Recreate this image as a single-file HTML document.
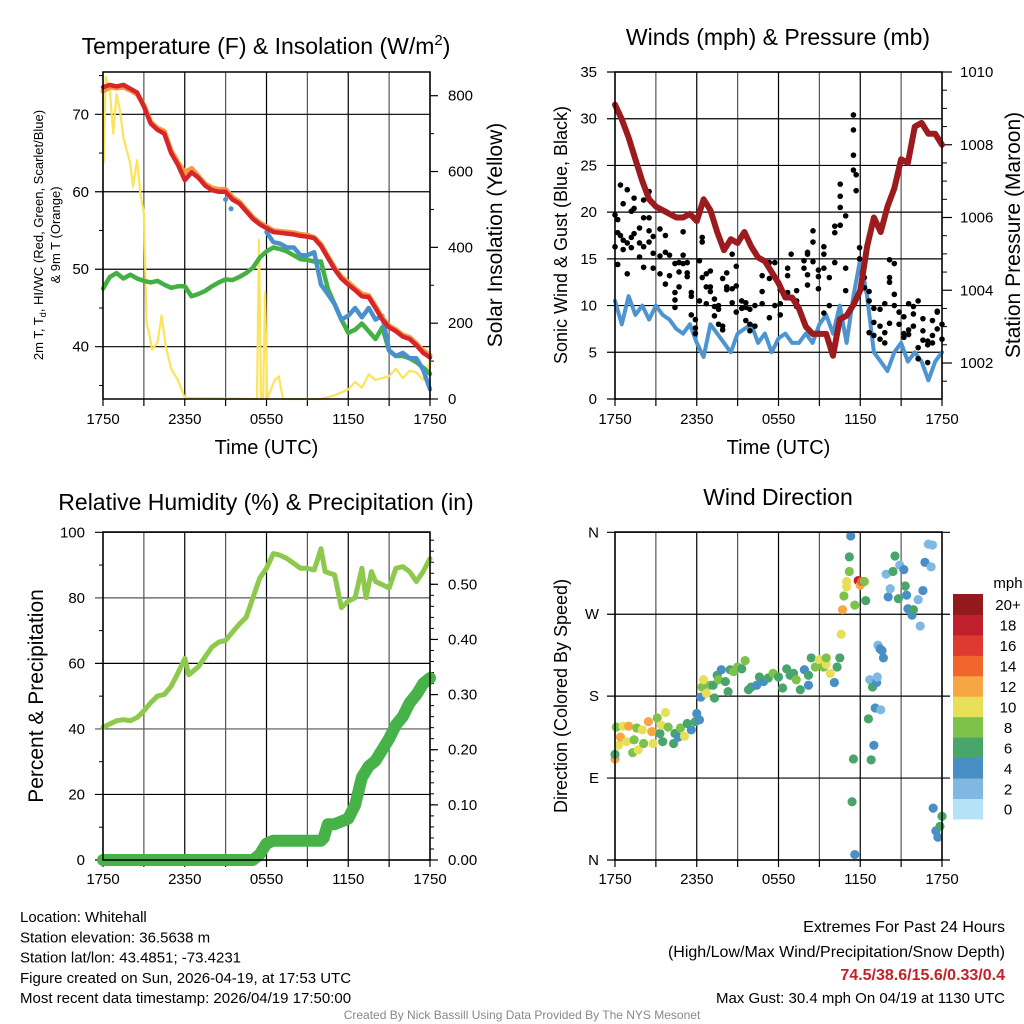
<!DOCTYPE html>
<html><head><meta charset="utf-8"><style>
html,body{margin:0;padding:0;background:#fff;}
svg{display:block;font-family:"Liberation Sans",sans-serif;}
</style></head><body>
<svg id="c" width="1024" height="1024" viewBox="0 0 1024 1024"></svg>
<script>
// ---------- DATA ----------
const halfHours = [0,0.5,1,1.5,2,2.5,3,3.5,4,4.5,5,5.5,6,6.5,7,7.5,8,8.5,9,9.5,10,10.5,11,11.5,12,12.5,13,13.5,14,14.5,15,15.5,16,16.5,17,17.5,18,18.5,19,19.5,20,20.5,21,21.5,22,22.5,23,23.5,24];
const tempRed = [73.5,73.8,73.6,73.8,73.3,72.8,71.0,68.8,68.0,67.5,65.0,63.5,61.5,62.5,61.8,60.8,60.2,60.0,60.0,59.0,58.5,57.5,56.5,55.8,55.3,54.8,54.7,54.6,54.5,54.3,54.2,54.0,53.0,51.5,50.0,48.8,48.0,47.3,46.5,46.4,45.0,43.5,42.5,42.0,41.3,41.0,40.2,39.2,38.6];
const tempOrange = [73.0,73.5,73.4,73.5,73.1,72.6,71.2,69.0,68.2,67.8,65.3,63.8,62.5,63.0,62.0,61.0,60.5,60.3,60.3,59.3,58.7,57.7,56.7,56.0,55.5,55.0,54.9,54.8,54.7,54.5,54.4,54.1,53.2,51.7,50.2,49.0,48.3,47.5,46.8,46.6,45.2,43.7,42.7,42.2,41.5,41.2,40.4,39.5,38.9];
const dewGreen = [47.5,49.0,49.5,48.8,49.3,48.8,48.5,48.3,48.5,48.0,47.6,47.8,47.8,46.5,46.8,47.2,47.8,48.3,48.7,48.6,49.0,49.5,50.2,51.5,52.3,52.8,52.6,52.3,51.8,51.3,51.2,51.0,51.0,47.5,45.5,43.5,41.8,42.2,43.0,42.0,41.0,42.5,39.5,38.8,38.8,38.5,38.0,37.3,36.5];
const chillTimes = [12,12.5,13,13.5,14,14.5,15,15.5,16,16.5,17,17.5,18,18.5,19,19.5,20,20.5,21,21.5,22,22.5,23,23.5,24];
const chillBlue = [54.8,53.5,53.3,52.8,52.8,51.8,51.8,52.2,48.0,46.8,45.5,43.5,44.0,45.0,43.8,45.0,43.5,44.0,39.5,38.8,39.2,38.5,38.5,37.0,34.5];
const solarTimes = [0,0.05,0.2,0.5,0.75,1,1.25,1.5,2,2.2,2.5,2.75,3,3.2,3.4,3.6,4,4.3,4.6,5,5.5,6,11.3,11.45,11.6,11.75,11.9,12.05,12.6,12.9,13.2,16,17,18,18.5,19,19.5,20,21,21.5,22,22.5,23,23.5,24];
const solarValues = [755,623,850,820,700,805,760,690,620,560,630,540,490,200,170,130,150,220,140,80,50,3,0,420,0,0,280,0,50,60,0,0,10,25,45,30,65,50,60,80,55,75,70,50,100];

const windTimes = halfHours;
const windBlue = [10.5,8,11,9,10,8.5,10,9,8.5,7.5,7,8,6,4.5,8,7,6,5,7,7.5,8,6,7,5,6.5,7,6,6,7,6,8,9,7,10,6,11,15,11,5,4,3,5,6,4,5,4,2,4,5];
const pressure = [1009.1,1008.7,1008.2,1007.6,1007.0,1006.5,1006.3,1006.2,1006.1,1006.0,1006.0,1006.1,1005.9,1006.5,1006.2,1005.6,1005.1,1005.4,1005.3,1005.6,1005.2,1004.9,1004.8,1004.5,1004.2,1003.8,1003.8,1003.5,1003.0,1002.8,1002.8,1002.8,1002.2,1003.2,1003.3,1003.6,1004.0,1005.2,1006.0,1005.6,1006.3,1006.8,1007.6,1007.5,1008.5,1008.6,1008.3,1008.3,1008.0];
const gustTimes = [0,0,0.2,0.2,0.2,0.4,0.4,0.6,0.6,0.6,0.9,0.9,0.9,1.2,1.2,1.2,1.4,1.4,1.4,1.8,1.8,1.8,2.1,2.1,2.1,2.1,2.5,2.5,2.5,2.5,2.8,2.8,2.8,3.3,3.3,3.3,3.7,3.7,3.7,4,4,4.4,4.4,4.4,4.4,4.7,4.7,4.7,5,5,5,5.3,5.3,5.3,5.6,5.6,5.6,5.9,5.9,5.9,6.2,6.2,6.4,6.4,6.4,6.7,6.7,6.7,7,7,7,7.3,7.3,7.3,7.6,7.6,7.6,7.9,7.9,7.9,8.2,8.2,8.2,8.6,8.6,8.6,8.9,8.9,8.9,9.3,9.3,9.6,9.6,9.6,9.9,9.9,9.9,10.27,10.27,10.8,10.8,10.8,11.33,11.33,11.33,11.73,11.73,12.13,12.13,12.13,12.67,12.67,12.67,12.93,12.93,13.33,13.33,13.33,13.87,13.87,14.13,14.13,14.13,14.13,14.53,14.53,14.53,14.93,14.93,14.93,15.33,15.33,15.33,15.33,15.73,15.73,16.13,16.13,16.13,16.53,16.53,16.53,16.53,16.93,16.93,16.93,17.5,17.5,17.5,17.5,17.7,17.7,17.95,17.95,18.3,18.3,18.65,18.65,18.65,19.0,19.0,19.0,19.45,19.45,19.45,19.8,19.8,19.8,20.15,20.15,20.15,20.15,20.5,20.5,20.5,20.85,20.85,21.2,21.2,21.2,21.55,21.55,21.55,21.9,21.9,21.9,22.25,22.25,22.25,22.6,22.6,22.6,22.95,22.95,22.95,23.3,23.3,23.3,23.65,23.65,23.65,24,24];
const gustValues = [19.7,16.3,19.2,17.8,14.4,22.9,17.5,20.9,17.0,16.0,22.4,16.7,13.4,20.1,17.3,16.2,21.5,20.4,17.7,18.3,16.7,15.2,21.3,19.4,16.3,14.1,22.2,19.4,18.0,16.8,17.4,15.6,14.0,18.2,15.3,13.4,17.5,15.7,12.3,15.4,13.2,14.5,11.4,10.6,9.8,13.6,12.0,14.6,17.9,15.4,14.5,14.6,13.5,13.1,11.0,9.0,11.4,7.6,7.0,8.5,14.8,10.5,16.8,17.3,13.0,13.4,12.0,10.2,11.5,13.7,12.0,10.7,9.9,8.9,10.0,9.6,8.0,12.9,7.4,7.8,13.5,12.0,11.7,15.5,11.8,10.3,14.2,12.1,9.3,9.7,10.5,10.3,9.8,8.4,9.6,8.0,7.3,10.0,7.8,13.2,11.5,10.2,14.6,12.9,8.7,14.6,10.0,11.7,9.0,10.2,14.0,13.2,11.4,15.5,10.8,11.6,10.5,9.9,14.8,14.0,15.7,15.5,13.3,12.2,18.0,16.8,14.7,13.8,13.1,11.8,16.3,15.5,14.0,9.2,13.0,10.0,14.6,17.8,18.5,18.6,20.5,21.7,23.0,19.6,14.0,11.6,24.5,26.1,28.8,30.4,24.0,22.3,16.2,15.0,13.0,11.9,11.5,10.5,7.1,9.7,8.2,6.8,9.6,7.8,6.4,7.1,6.0,10.2,8.1,14.9,13.0,12.5,10.0,14.5,11.2,9.3,8.0,8.8,7.0,6.6,10.2,7.4,6.9,9.9,9.1,7.8,5.5,4.3,10.5,8.6,6.3,7.3,3.9,5.8,6.2,8.4,6.0,6.8,9.3,9.4,7.5,6.4,8.0];

const rhTimes = [0,0.5,1,1.5,2,2.5,3,3.5,4,4.5,5,5.5,6,6.3,7,7.5,8,8.5,9,9.5,10,10.5,11,11.5,12,12.5,13,13.5,14,14.5,15,15.5,16,16.3,17,17.5,18,18.5,19,19.3,19.7,20,20.5,21,21.5,22,22.5,23,23.5,24];
const rhValues = [40.5,41.5,42.5,42.8,42.5,43.5,45.5,48,50,50.5,53,57,61.5,56.5,59,62,65,66.5,67,69.5,72,74,80,86,89,93.5,93,92,90.5,89,89,88.5,95,88,87,77,79,80,89,80,88,85,84,83,89,89.5,88,85,88,92];
const precipTimes = [0,11,11.5,12,12.5,16,16.2,16.5,17,17.5,18,18.5,19,19.5,20,20.5,21,21.5,22,22.5,23,23.5,24];
const precipValues = [0,0,0.01,0.03,0.035,0.035,0.04,0.065,0.065,0.07,0.075,0.10,0.15,0.17,0.18,0.20,0.22,0.245,0.26,0.285,0.30,0.32,0.33];

const dirTimes = [0,0,0.1,0.25,0.4,0.6,0.85,1,1.3,1.4,1.6,1.7,2,2.1,2.45,2.7,2.8,3.1,3.3,3.4,3.7,3.5,3.9,4.3,4.4,4.65,4.8,5.1,5.3,5.6,5.9,6,6.2,6.3,6.4,6.5,6.7,7,7.2,7.3,7.5,7.6,7.8,8.1,8.3,8.45,8.7,9,9.3,9.55,9.8,10,10.4,10.6,10.9,11.25,11.6,12,12.3,12.6,12.85,13.1,13.3,13.6,13.9,14.2,14.2,14.4,14.7,15,15.3,15.5,15.5,15.8,16.1,16.3,16.5,16.6,16.7,16.8,17,17,17.2,17.2,17.3,17.5,17.4,17.6,17.6,17.85,18,18.1,18.3,18.4,18.6,18.7,18.8,19,18.9,19.1,19.2,19.25,19.3,19.45,19.6,19.7,19.5,19.9,20.05,20.2,20.4,20.55,20.8,20.9,21.2,21.3,21.4,21.5,21.8,21.9,22.25,22.4,22.6,22.75,23,23.2,23.3,23.35,23.55,23.7,23.85,24];
const dirDegrees = [111,116,146,126,135,147,130,147,118,132,145,121,143,128,152,141,128,156,139,148,162,130,146,128,139,135,145,136,150,143,152,161,154,179,190,198,183,192,192,178,203,198,209,196,185,209,207,212,210,219,187,190,192,201,196,200,205,201,189,210,203,205,198,187,209,203,192,222,212,220,212,215,222,205,195,212,222,248,275,290,300,306,317,333,356,111,64,6,280,307,302,306,306,285,155,198,110,126,190,167,195,201,236,232,230,222,165,314,289,298,317,334,287,324,319,301,291,276,269,275,286,257,296,327,347,322,346,57,32,25,37,48];
const dirSpeeds = [12,6,8,10,12,10,10,12,8,8,8,10,10,8,12,12,10,8,6,10,10,6,8,6,6,4,8,10,6,4,6,4,4,4,8,10,10,8,6,6,6,8,4,6,6,6,8,8,6,8,6,6,4,6,4,6,8,6,6,6,6,6,8,6,4,6,4,6,8,10,8,10,8,10,4,6,6,10,12,8,10,10,8,6,4,6,6,4,8,18,12,14,8,6,6,2,6,4,6,4,4,2,2,4,4,4,2,2,4,2,6,6,6,2,4,6,4,4,4,6,2,2,4,4,2,2,2,4,4,4,6,6];

const timeTickLabels = ["1750","2350","0550","1150","1750"];
const tempTicks = [40,50,60,70];
const solarTicks = [0,200,400,600,800];
const windTicks = [0,5,10,15,20,25,30,35];
const pressTicks = [1002,1004,1006,1008,1010];
const rhTicks = [0,20,40,60,80,100];
const precipTicks = [0,0.1,0.2,0.3,0.4,0.5];
const dirTickLabels = ["N","E","S","W","N"];
const speedBins = ["0","2","4","6","8","10","12","14","16","18","20+"];
const speedColors = ["#b4e2f6","#7fb8e2","#4a8ec6","#48a56c","#7cc24b","#e8df58","#f6a744","#f0662c","#df3a2f","#c0202b","#921a1c"];

// ---------- HELPERS ----------
const NS = "http://www.w3.org/2000/svg";
const svg = document.getElementById('c');
function mk(tag, attrs, parent){const e=document.createElementNS(NS,tag);for(const k in attrs)e.setAttribute(k,attrs[k]);(parent||svg).appendChild(e);return e;}
function txt(s, attrs, parent){const e=mk('text',attrs,parent);e.textContent=s;return e;}
function lin(d0,d1,r0,r1){return v=>r0+(v-d0)*(r1-r0)/(d1-d0);}

function panel(name,x0,x1,y0,y1){
  const g=mk('g',{});
  
  
  const xs=lin(0,24,x0,x1);
  for(let h=0;h<=24;h+=3){
    const l=mk('line',{x1:xs(h),x2:xs(h),y1:y0,y2:y1,stroke:(h%6==0)?'#000':'#555','stroke-width':1.2},g);
    
    
    mk('line',{x1:xs(h),x2:xs(h),y1:y1,y2:y1+7,stroke:'#000','stroke-width':1.2},g);
  }
  return {g,xs};
}
function timeLabels(g,xs,y,withTitle){
  timeTickLabels.forEach((s,i)=>{
    const t=txt(s,{x:xs(i*6),y:y,'font-size':15,'text-anchor':'middle'},g);
    
    
  });
  if(withTitle){
    const t=txt('Time (UTC)',{x:(xs(0)+xs(24))/2,y:y+30,'font-size':20,'text-anchor':'middle'},g);
    
    
  }
}
function frame(g,x0,x1,y0,y1){mk('rect',{x:x0,y:y0,width:x1-x0,height:y1-y0,fill:'none',stroke:'#000','stroke-width':1.5},g);}
function path(g,xs,ys,T,V,style,name){
  let d='';T.forEach((t,i)=>{d+=(i?'L':'M')+xs(t).toFixed(1)+','+ys(V[i]).toFixed(1);});
  const p=mk('path',Object.assign({d:d,fill:'none','stroke-linejoin':'round','stroke-linecap':'round'},style),g);
  
  
  return p;
}

// ---------- PANEL 1: Temperature ----------
(function(){
  const X0=103,X1=430,Y0=72,Y1=399;
  const {g,xs}=panel('temperature-panel',X0,X1,Y0,Y1);
  const yT=lin(40,70,346.7,114.3), yS=lin(0,800,399,95.7);
  tempTicks.forEach(v=>{mk('line',{x1:X0-8,x2:X1,y1:yT(v),y2:yT(v),stroke:'#000','stroke-width':1.2},g);
    const t=txt(String(v),{x:X0-14,y:yT(v)+5,'font-size':15,'text-anchor':'end'},g);
    });
  for(let v=35;v<=75;v+=5){if(v%10)mk('line',{x1:X0-4,x2:X0,y1:yT(v),y2:yT(v),stroke:'#000'},g);}
  solarTicks.forEach(v=>{mk('line',{x1:X1,x2:X1+8,y1:yS(v),y2:yS(v),stroke:'#000','stroke-width':1.2},g);
    const t=txt(String(v),{x:X1+18,y:yS(v)+5,'font-size':15},g);
    });
  for(let v=100;v<=800;v+=200)mk('line',{x1:X1,x2:X1+4,y1:yS(v),y2:yS(v),stroke:'#000'},g);
  path(g,xs,yS,solarTimes,solarValues,{stroke:'#fce45a','stroke-width':2.2},'solar-line');
  path(g,xs,yT,halfHours,dewGreen,{stroke:'#44b043','stroke-width':4.5},'dewpoint-line');
  path(g,xs,yT,chillTimes,chillBlue,{stroke:'#4a90cc','stroke-width':4.5},'windchill-line');
  [[9,59.0],[9.4,57.8]].forEach(p=>{const c=mk('circle',{cx:xs(p[0]),cy:yT(p[1]),r:2.5,fill:'#4a90cc'},g);});
  path(g,xs,yT,halfHours,tempOrange,{stroke:'#f59a3c','stroke-width':5},'temp-9m-line');
  path(g,xs,yT,halfHours,tempRed,{stroke:'#d6262b','stroke-width':4.5},'temp-2m-line');
  frame(g,X0,X1,Y0,Y1);
  timeLabels(g,xs,424,true);
  const t=mk('text',{x:266,y:54,'font-size':23,'text-anchor':'middle'},g);
  t.innerHTML='Temperature (F) &amp; Insolation (W/m<tspan font-size="15" dy="-9">2</tspan><tspan dy="9">)</tspan>';
  
  const a=txt('2m T, T',{transform:'translate(43,235) rotate(-90)','font-size':13,'text-anchor':'middle'},g);
  a.innerHTML='2m T, T<tspan font-size="9" dy="3">d</tspan><tspan dy="-3">, HI/WC (Red, Green, Scarlet/Blue)</tspan>';
  
  const b=txt('& 9m T (Orange)',{transform:'translate(60,235) rotate(-90)','font-size':13,'text-anchor':'middle'},g);
  
  const r=txt('Solar Insolation (Yellow)',{transform:'translate(502,235) rotate(-90)','font-size':21,'text-anchor':'middle'},g);
  
})();

// ---------- PANEL 2: Winds ----------
(function(){
  const X0=615,X1=942,Y0=72,Y1=399;
  const {g,xs}=panel('wind-panel',X0,X1,Y0,Y1);
  const yW=lin(0,35,399,72), yP=lin(1002,1010,363,72);
  windTicks.forEach(v=>{mk('line',{x1:X0-8,x2:X1,y1:yW(v),y2:yW(v),stroke:'#000','stroke-width':1.2},g);
    const t=txt(String(v),{x:X0-18,y:yW(v)+5,'font-size':15,'text-anchor':'end'},g);
    });
  pressTicks.forEach(v=>{mk('line',{x1:X1,x2:X1+10,y1:yP(v),y2:yP(v),stroke:'#000','stroke-width':1.2},g);
    const t=txt(String(v),{x:X1+18,y:yP(v)+5,'font-size':15},g);
    });
  for(let v=1001.5;v<1010;v+=0.5){if(v%2)mk('line',{x1:X1,x2:X1+5,y1:yP(v),y2:yP(v),stroke:'#000'},g);}
  path(g,xs,yW,windTimes,windBlue,{stroke:'#4d95d0','stroke-width':4},'sustained-wind-line');
  gustTimes.forEach((t,i)=>{const c=mk('circle',{cx:xs(t),cy:yW(gustValues[i]),r:2.8,fill:'#000'},g);
    });
  path(g,xs,yP,halfHours,pressure,{stroke:'#9b1b1e','stroke-width':6},'pressure-line');
  frame(g,X0,X1,Y0,Y1);
  timeLabels(g,xs,424,true);
  const t=txt('Winds (mph) & Pressure (mb)',{x:778,y:45,'font-size':23,'text-anchor':'middle'},g);
  
  const a=txt('Sonic Wind & Gust (Blue, Black)',{transform:'translate(567,235) rotate(-90)','font-size':18,'text-anchor':'middle'},g);
  
  const b=txt('Station Pressure (Maroon)',{transform:'translate(1020,235) rotate(-90)','font-size':21,'text-anchor':'middle'},g);
  
})();

// ---------- PANEL 3: RH & Precip ----------
(function(){
  const X0=103,X1=430,Y0=532,Y1=860;
  const {g,xs}=panel('humidity-panel',X0,X1,Y0,Y1);
  const yR=lin(0,100,860,532.3), yPr=lin(0,0.5,860,584.3);
  rhTicks.forEach(v=>{mk('line',{x1:X0-8,x2:X1,y1:yR(v),y2:yR(v),stroke:(v%40==0&&v)?'#555':'#000','stroke-width':1.2},g);
    const t=txt(String(v),{x:X0-18,y:yR(v)+5,'font-size':15,'text-anchor':'end'},g);
    });
  for(let v=10;v<100;v+=20)mk('line',{x1:X0-4,x2:X0,y1:yR(v),y2:yR(v),stroke:'#000'},g);
  precipTicks.forEach(v=>{mk('line',{x1:X1,x2:X1+8,y1:yPr(v),y2:yPr(v),stroke:'#000','stroke-width':1.2},g);
    const t=txt(v.toFixed(2),{x:X1+18,y:yPr(v)+5,'font-size':15},g);
    });
  for(let v=0.02;v<0.59;v+=0.02)mk('line',{x1:X1,x2:X1+4,y1:yPr(v),y2:yPr(v),stroke:'#000'},g);
  path(g,xs,yR,rhTimes,rhValues,{stroke:'#8cc94c','stroke-width':5},'rh-line');
  path(g,xs,yPr,precipTimes,precipValues,{stroke:'#46b247','stroke-width':12},'precip-line');
  frame(g,X0,X1,Y0,Y1);
  timeLabels(g,xs,884,false);
  const t=txt('Relative Humidity (%) & Precipitation (in)',{x:266,y:510,'font-size':23,'text-anchor':'middle'},g);
  
  const a=txt('Percent & Precipitation',{transform:'translate(43,696) rotate(-90)','font-size':21,'text-anchor':'middle'},g);
  
})();

// ---------- PANEL 4: Wind Direction ----------
(function(){
  const X0=615,X1=942,Y0=532,Y1=860;
  const {g,xs}=panel('direction-panel',X0,X1,Y0,Y1);
  const yD=lin(0,360,860,532.3);
  dirTickLabels.forEach((s,i)=>{const v=i*90;mk('line',{x1:X0-8,x2:X1+8,y1:yD(v),y2:yD(v),stroke:'#000','stroke-width':1.2},g);
    const t=txt(s,{x:X0-16,y:yD(v)+5,'font-size':15,'text-anchor':'end'},g);
    });
  dirTimes.forEach((t,i)=>{const bin=Math.min(10,Math.round(dirSpeeds[i]/2));
    const c=mk('circle',{cx:xs(t),cy:yD(dirDegrees[i]),r:4.6,fill:speedColors[bin]},g);
    });
  frame(g,X0,X1,Y0,Y1);
  timeLabels(g,xs,884,false);
  const t=txt('Wind Direction',{x:778,y:505,'font-size':23,'text-anchor':'middle'},g);
  
  const a=txt('Direction (Colored By Speed)',{transform:'translate(567,696) rotate(-90)','font-size':18,'text-anchor':'middle'},g);
  
  const cb=mk('g',{});
  
  
  const n=speedBins.length, top=594, h=20.45;
  speedBins.forEach((s,i)=>{const yy=top+(n-1-i)*h;
    const r=mk('rect',{x:953,y:yy,width:30,height:h+0.5,fill:speedColors[i]},cb);
    
    const l=txt(s,{x:1008,y:yy+h/2+6,'font-size':15,'text-anchor':'middle'},cb);
    });
  const u=txt('mph',{x:1008,y:588,'font-size':15,'text-anchor':'middle'},cb);
  
})();

// ---------- FOOTER ----------
(function(){
  const g=mk('g',{});
  
  
  const left=["Location: Whitehall","Station elevation: 36.5638 m","Station lat/lon: 43.4851; -73.4231","Figure created on Sun, 2026-04-19, at 17:53 UTC","Most recent data timestamp: 2026/04/19 17:50:00"];
  left.forEach((s,i)=>{const t=txt(s,{x:20,y:922+i*20.3,'font-size':15},g);});
  const r1=txt('Extremes For Past 24 Hours',{x:1005,y:932,'font-size':16,'text-anchor':'end'},g);
  
  const r2=txt('(High/Low/Max Wind/Precipitation/Snow Depth)',{x:1005,y:957,'font-size':16,'text-anchor':'end'},g);
  
  const r3=txt('74.5/38.6/15.6/0.33/0.4',{x:1005,y:980,'font-size':16,'font-weight':'bold',fill:'#c8202a','text-anchor':'end'},g);
  
  const r4=txt('Max Gust: 30.4 mph On 04/19 at 1130 UTC',{x:1005,y:1003,'font-size':15,'text-anchor':'end'},g);
  
  const c=txt('Created By Nick Bassill Using Data Provided By The NYS Mesonet',{x:522,y:1019,'font-size':12,fill:'#888','text-anchor':'middle'},g);
  
})();
</script>
</body></html>
